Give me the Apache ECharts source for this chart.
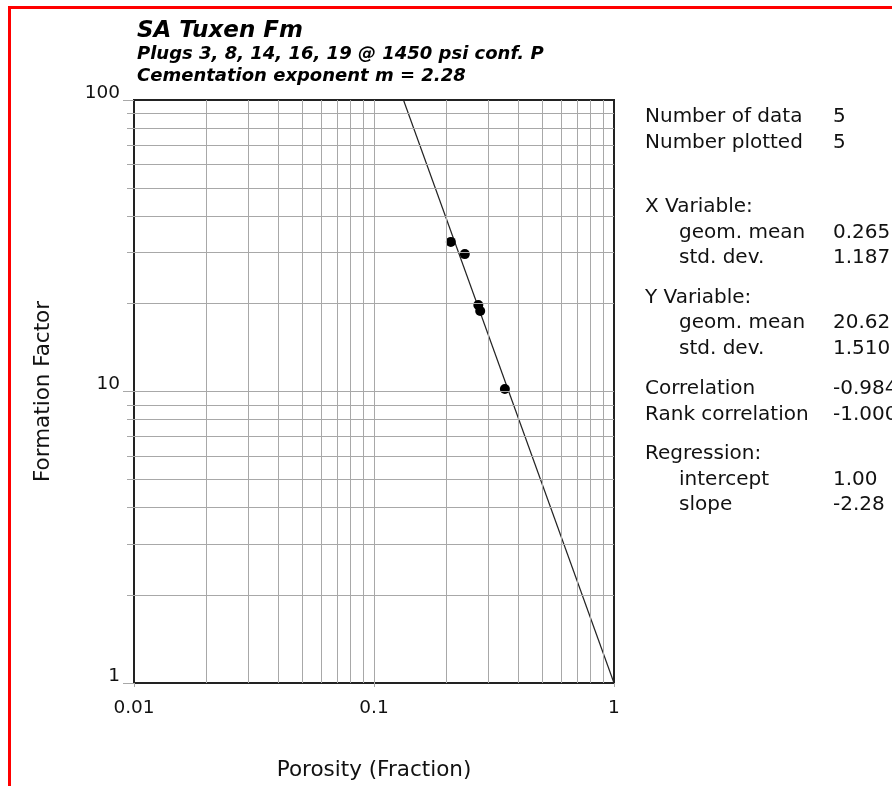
<!DOCTYPE html>
<html>
<head>
<meta charset="utf-8">
<script src="https://cdn.jsdelivr.net/npm/echarts@6/dist/echarts.min.js"></script>
<style>
  html, body { margin: 0; padding: 0; background: #fff; }
  #chart { width: 892px; height: 786px; }
</style>
</head>
<body>
<div id="chart"></div>
<script>
// Core plug measurements: porosity (fraction) vs formation factor
const porosity = [0.209, 0.239, 0.272, 0.277, 0.351];
const formationFactor = [32.6, 29.6, 19.8, 18.9, 10.2];

// Archie regression F = a * phi^m
const regIntercept = 1.00;
const regSlope = -2.28;

// Axis ranges, labelled ticks and grid positions
const xTicks = [0.01, 0.1, 1];
const yTicks = [1, 10, 100];
const xGrid = [0.02, 0.03, 0.04, 0.05, 0.06, 0.07, 0.08, 0.09, 0.1,
               0.2, 0.3, 0.4, 0.5, 0.6, 0.7, 0.8, 0.9];
const yGrid = [2, 3, 4, 5, 6, 7, 8, 9, 10,
               20, 30, 40, 50, 60, 70, 80, 90];

// Summary statistics panel: [label, value, indented, baseline row y]
const statRows = [
  ['Number of data', '5', false, 117],
  ['Number plotted', '5', false, 143],
  ['X Variable:', '', false, 207],
  ['geom. mean', '0.265', true, 232.5],
  ['std. dev.', '1.187', true, 258],
  ['Y Variable:', '', false, 297.5],
  ['geom. mean', '20.62', true, 323],
  ['std. dev.', '1.510', true, 348.5],
  ['Correlation', '-0.984', false, 389],
  ['Rank correlation', '-1.000', false, 414.5],
  ['Regression:', '', false, 454],
  ['intercept', '1.00', true, 479.5],
  ['slope', '-2.28', true, 505]
];

const titleLines = [
  'SA Tuxen Fm',
  'Plugs 3, 8, 14, 16, 19 @ 1450 psi conf. P',
  'Cementation exponent m = 2.28'
];

const FONT = '"DejaVu Sans", sans-serif';
const GRID_COLOR = '#a8a8a8';
const AXIS_COLOR = '#222';

// Regression line spans from F = 100 down to phi = 1
const yMax = yTicks[yTicks.length - 1];
const xAtTop = Math.pow(yMax / regIntercept, 1 / regSlope);
const xEnd = xTicks[xTicks.length - 1];
const regLine = [xAtTop, xEnd].map(x => [x, regIntercept * Math.pow(x, regSlope)]);

const chart = echarts.init(document.getElementById('chart'), null, { renderer: 'canvas' });

const graphics = [
  {
    type: 'rect', silent: true, z: 100,
    shape: { x: 9.5, y: 7.5, width: 1000, height: 1000 },
    style: { fill: 'none', stroke: '#ff0000', lineWidth: 3 }
  },
  {
    type: 'text', x: 137, y: 31,
    style: { text: titleLines[0], font: 'italic bold 23px ' + FONT, fill: '#000', verticalAlign: 'middle' }
  },
  {
    type: 'text', x: 137, y: 54.5,
    style: { text: titleLines[1], font: 'italic bold 18px ' + FONT, fill: '#000', verticalAlign: 'middle' }
  },
  {
    type: 'text', x: 137, y: 76,
    style: { text: titleLines[2], font: 'italic bold 18px ' + FONT, fill: '#000', verticalAlign: 'middle' }
  }
];

statRows.forEach(([label, value, indented, y]) => {
  graphics.push({
    type: 'text', x: indented ? 679 : 645, y: y,
    style: { text: label, font: '20px ' + FONT, fill: '#111', verticalAlign: 'middle' }
  });
  if (value) {
    graphics.push({
      type: 'text', x: 833, y: y,
      style: { text: value, font: '20px ' + FONT, fill: '#111', verticalAlign: 'middle' }
    });
  }
});

const fmt = v => String(+Number(v).toPrecision(3));

chart.setOption({
  animation: false,
  backgroundColor: '#fff',
  grid: {
    left: 134, top: 100, width: 480, height: 583,
    show: true, borderColor: AXIS_COLOR, borderWidth: 2, backgroundColor: 'transparent'
  },
  xAxis: [{
    type: 'log', logBase: 10, min: xTicks[0], max: xEnd,
    name: 'Porosity (Fraction)', nameLocation: 'middle', nameGap: 76,
    nameTextStyle: { fontFamily: FONT, fontSize: 21.5, color: '#111' },
    axisLine: { show: true, onZero: false, lineStyle: { color: AXIS_COLOR, width: 2 } },
    axisTick: { show: true, length: 4, customValues: xTicks, lineStyle: { color: GRID_COLOR } },
    axisLabel: {
      customValues: xTicks, formatter: fmt, margin: 16,
      fontFamily: FONT, fontSize: 18.5, color: '#111'
    },
    splitLine: { show: false }
  }],
  yAxis: [{
    type: 'log', logBase: 10, min: yTicks[0], max: yMax,
    name: 'Formation Factor', nameLocation: 'middle', nameGap: 80,
    nameTextStyle: { fontFamily: FONT, fontSize: 21.5, color: '#111' },
    axisLine: { show: true, onZero: false, lineStyle: { color: AXIS_COLOR, width: 2 } },
    axisTick: { show: true, length: 11, customValues: yTicks, lineStyle: { color: GRID_COLOR } },
    axisLabel: {
      customValues: yTicks, formatter: fmt, margin: 14, verticalAlign: 'bottom', lineHeight: 14,
      fontFamily: FONT, fontSize: 18.5, color: '#111'
    },
    splitLine: { show: false }
  }, {
    type: 'log', logBase: 10, min: yTicks[0], max: yMax, position: 'left',
    axisLine: { show: false },
    axisTick: { show: true, length: 7, customValues: yGrid, lineStyle: { color: GRID_COLOR } },
    axisLabel: { show: false },
    splitLine: { show: false }
  }],
  series: [
    {
      // grid lines at every decade subdivision
      type: 'line', data: [], z: 1, silent: true,
      markLine: {
        silent: true, symbol: 'none', animation: false,
        label: { show: false },
        lineStyle: { color: GRID_COLOR, width: 1, type: 'solid' },
        data: xGrid.map(v => ({ xAxis: v })).concat(yGrid.map(v => ({ yAxis: v })))
      }
    },
    {
      type: 'line', data: regLine, z: 3, silent: true,
      showSymbol: false, symbol: 'none',
      lineStyle: { color: '#222', width: 1.2 }
    },
    {
      type: 'scatter', z: 4,
      data: porosity.map((p, i) => [p, formationFactor[i]]),
      symbol: 'circle', symbolSize: 10,
      itemStyle: { color: '#000', opacity: 1 }
    }
  ],
  graphic: graphics
});
</script>
</body>
</html>
